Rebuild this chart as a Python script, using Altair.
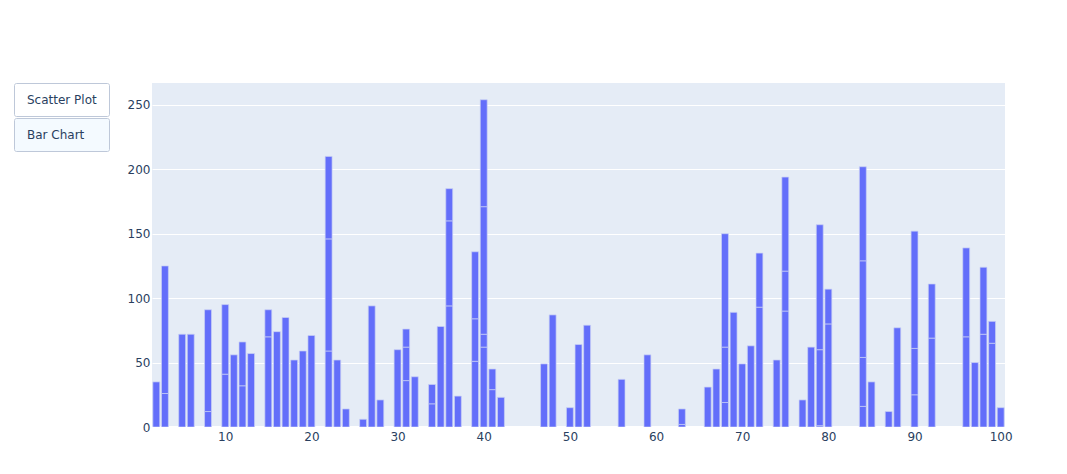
import altair as alt
import pandas as pd

FONT = "DejaVu Sans"
INK = "#2a3f5f"

xs = [2, 3, 5, 6, 8, 10, 11, 12, 13, 15, 16, 17, 18, 19, 20, 22, 23, 24, 26, 27, 28,
      30, 31, 32, 34, 35, 36, 37, 39, 40, 41, 42, 47, 48, 50, 51, 52, 56, 59, 63,
      66, 67, 68, 69, 70, 71, 72, 74, 75, 77, 78, 79, 80, 84, 85, 87, 88, 90, 92,
      96, 97, 98, 99, 100]
# cumulative top of every stacked segment, per x
stops = [[35], [26, 125], [72], [72], [12, 91], [41, 95], [56], [32, 66], [57],
         [70, 91], [74], [85], [52], [59], [71], [59, 146, 210], [52], [14], [6], [94], [21],
         [60], [36, 62, 76], [39], [18, 33], [78], [94, 160, 185], [24], [51, 84, 136],
         [62, 72, 171, 254], [29, 45], [23], [49], [87], [15], [64], [79], [37], [56], [2, 14],
         [31], [45], [19, 62, 150], [89], [49], [63], [93, 135], [52], [90, 121, 194],
         [21], [62], [1, 60, 157], [80, 107], [16, 54, 129, 202], [35], [12], [77],
         [25, 61, 152], [69, 111], [70, 139], [50], [72, 124], [65, 82], [15]]
button_labels = ["Scatter Plot", "Bar Chart"]
button_fills = ["#FFFFFF", "#F4FAFF"]
button_tops = [83.5, 118.5]

rows = []
for x, tops in zip(xs, stops):
    low = 0
    for top in tops:
        rows.append({"x": x, "low": low, "top": top})
        low = top
bars_df = pd.DataFrame(rows)

y_scale = alt.Scale(domain=[0, 267], nice=False)
y_axis = alt.Axis(values=[0, 50, 100, 150, 200, 250], title=None, grid=True, gridColor="#FFFFFF",
                  gridWidth=1, gridOpacity=1, domain=False, ticks=False, labelPadding=2,
                  labelFontSize=12, labelColor=INK, labelFont=FONT)

x_enc = alt.X(
    "x:Q",
    scale=alt.Scale(domain=[1.5, 100.5], nice=False, zero=False, padding=0),
    axis=alt.Axis(values=list(range(10, 101, 10)), title=None, grid=False, domain=False,
                  ticks=False, labelPadding=4, labelFontSize=12, labelColor=INK,
                  labelFont=FONT, labelFlush=False, labelOverlap=False, format="d"),
)

zero = alt.Chart(pd.DataFrame({"v": [0]})).mark_rule(color="#FFFFFF", strokeWidth=2).encode(
    y=alt.Y("v:Q", scale=y_scale, axis=y_axis)
)

bars = alt.Chart(bars_df).mark_bar(
    width=6.9, fill="#636EFA", stroke="#C9D0F5", strokeWidth=0.7, clip=True
).encode(x=x_enc, y=alt.Y("low:Q", scale=y_scale, axis=y_axis), y2="top:Q")

button_layers = []
for label, fill, top in zip(button_labels, button_fills, button_tops):
    d = pd.DataFrame({"label": [label]})
    button_layers.append(
        alt.Chart(d).mark_rect(fill=fill, stroke="#BEC8D9", strokeWidth=1, cornerRadius=2).encode(
            x=alt.value(14.5 - 152), x2=alt.value(109.5 - 152),
            y=alt.value(top - 83), y2=alt.value(top + 33 - 83),
        )
    )
    button_layers.append(
        alt.Chart(d).mark_text(align="left", baseline="middle", font=FONT, fontSize=12, color=INK).encode(
            x=alt.value(27 - 152), y=alt.value(top + 16 - 83), text="label:N",
        )
    )

chart = alt.layer(zero, bars, *button_layers).properties(
    width=853, height=344,
    autosize=alt.AutoSizeParams(type="none"),
    padding={"left": 144, "top": 75, "right": 54, "bottom": 39},
    background="#FFFFFF",
).configure_view(fill="#E5ECF6", strokeWidth=0)

chart.save("out.html", embed_options={"renderer": "svg", "actions": False})
